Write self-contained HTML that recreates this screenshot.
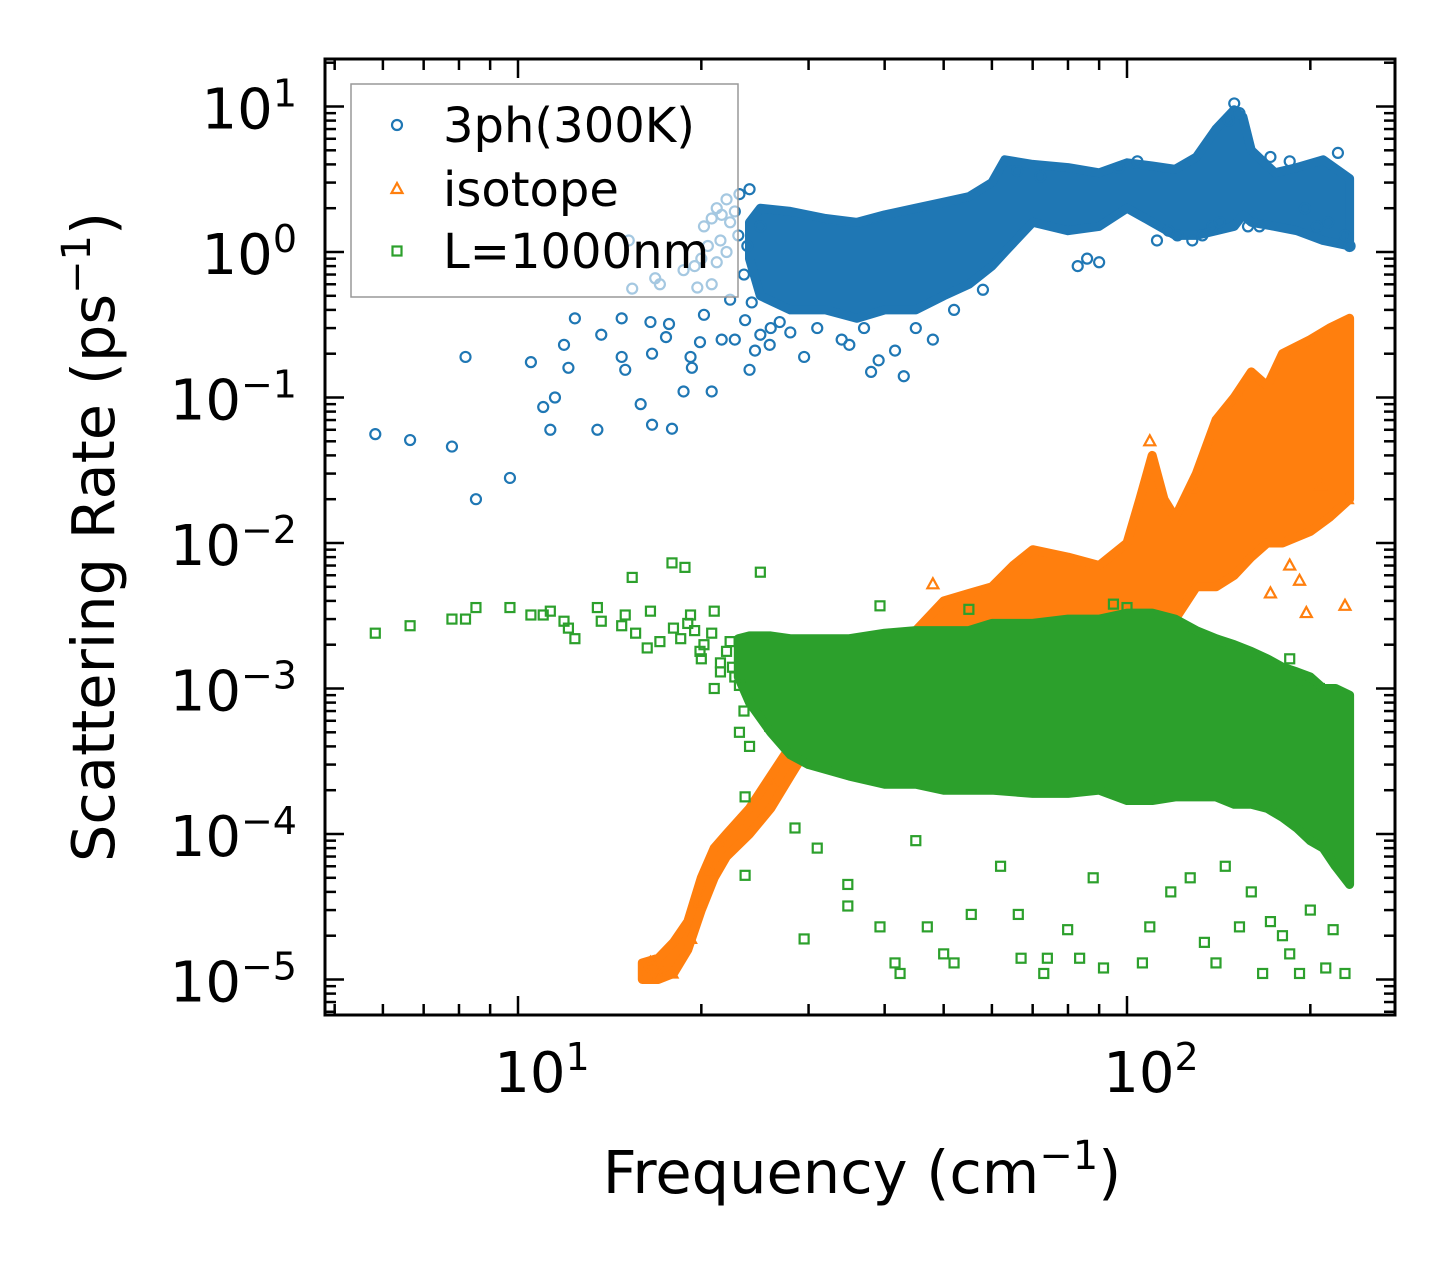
<!DOCTYPE html>
<html><head><meta charset="utf-8"><style>
html,body{margin:0;padding:0;background:#fff;}
svg{display:block;font-family:"DejaVu Sans","Liberation Sans",sans-serif;}
</style></head><body>
<svg id="chart" width="1455" height="1265" viewBox="0 0 1455 1265" xmlns="http://www.w3.org/2000/svg">
<rect x="0" y="0" width="1455" height="1265" fill="#fff"/>
<g id="marks"></g>
<g id="axes"></g>
</svg>
<script>
// ---- data ----
const blueX = [5.83,6.65,7.79,8.2,8.53,9.7,10.5,11.0,11.3,11.5,11.9,12.1,12.4,13.5,13.7,14.8,14.8,15.0,15.2,15.4,15.9,16.5,16.6,16.6,16.8,17.1,17.5,17.7,17.9,18.7,18.7,19.2,19.3,19.7,19.9,20.2,20.8,20.8,21.2,21.6,22.3,22.7,23.6,24.0,24.5,25,25.9,26.9,29.5,35,38,39.1,41.6,43,48,20.2,20.8,21.2,21.6,22,22.3,22.7,23.1,21.5,20.5,22,23,19.5,20,24,26,28,31,34,37,45,52,58,66,72,83,86,90,97,104,112,117,121,128,133,138,142,147,150,153,158,165,172,185,196,205,214,222,228,232,23.5,24.2,25,23.8];
const blueY = [0.056,0.051,0.046,0.19,0.02,0.028,0.175,0.086,0.06,0.10,0.23,0.16,0.35,0.06,0.27,0.35,0.19,0.155,1.2,0.56,0.09,0.33,0.2,0.065,0.66,0.6,0.26,0.32,0.061,0.75,0.11,0.19,0.16,0.57,0.24,0.37,0.11,0.6,0.85,0.25,0.47,0.25,0.34,0.155,0.21,0.27,0.23,0.33,0.19,0.23,0.15,0.18,0.21,0.14,0.25,1.5,1.7,2.0,1.8,2.3,1.6,1.9,2.5,1.2,1.1,1.0,1.3,0.8,0.9,2.7,0.3,0.28,0.3,0.25,0.3,0.3,0.4,0.55,3.6,3.3,0.8,0.9,0.85,3.8,4.2,1.2,1.4,1.3,1.2,1.3,1.5,1.6,8,10.5,9,1.5,1.5,4.5,4.2,2.0,1.5,1.6,4.8,1.3,1.1,0.7,0.45,1.5,1.1];
const blueBandX = [24,25,28,32,36,40,45,50,55,60,63,70,80,90,100,110,120,130,140,150,155,160,175,190,210,232];
const blueBandLo = [0.9,0.5,0.4,0.4,0.35,0.4,0.4,0.5,0.6,0.8,1.0,1.6,1.4,1.5,2.0,1.6,1.3,1.3,1.4,1.5,1.8,1.6,1.5,1.4,1.2,1.1];
const blueBandHi = [1.6,2.0,1.9,1.7,1.6,1.8,2.0,2.2,2.4,3.0,4.3,4.0,3.8,3.5,4.1,3.9,3.7,4.5,7,9.5,8.5,5,3.5,3.8,4.3,3.2];

const orangeX = [16.2,16.8,17.3,17.9,16.5,17.0,19.2,19.9,20.7,21.5,23,25.9,28,29.5,48,192,197,228,172,185,109,129,153,208,230];
const orangeY = [1.1e-5,1.2e-5,1.1e-5,1.1e-5,1.3e-5,1.05e-5,1.9e-5,3.4e-5,5.6e-5,8.4e-5,1.2e-4,2.3e-4,3.7e-4,4.7e-4,5.2e-3,5.5e-3,3.3e-3,3.7e-3,4.5e-3,7e-3,5e-2,2.3e-2,0.1,2.5e-2,0.02];
const orangeBandX = [16,17,18,19,20,21,22,24,26,28,30,35,40,45,50,55,60,65,70,80,90,100,105,110,115,120,130,140,150,160,170,180,200,215,232];
const orangeBandLo = [1e-5,1e-5,1.1e-5,1.6e-5,3e-5,5e-5,7e-5,1e-4,1.5e-4,2.5e-4,4e-4,5e-4,6e-4,7e-4,8e-4,1e-3,1.2e-3,1.5e-3,1.5e-3,1.5e-3,2e-3,2e-3,3e-3,3e-3,3e-3,3e-3,5e-3,5e-3,6e-3,8e-3,1e-2,1e-2,1.2e-2,1.5e-2,2e-2];
const orangeBandHi = [1.3e-5,1.4e-5,1.8e-5,2.5e-5,5e-5,8e-5,1e-4,1.5e-4,2.5e-4,4e-4,6e-4,1.2e-3,1.8e-3,2.5e-3,4e-3,4.5e-3,5e-3,7e-3,9e-3,8e-3,7e-3,1e-2,2e-2,4e-2,2e-2,1.5e-2,3e-2,7e-2,0.1,0.15,0.12,0.2,0.25,0.3,0.35];

const greenX = [5.83,6.65,7.79,8.2,8.53,9.7,10.5,11,11.3,11.9,12.1,12.4,13.5,13.7,14.8,15,15.4,15.6,16.3,16.5,17.1,17.9,18.8,19.2,19.9,21,21.5,22.3,23.1,25,23.1,24,25.9,23.6,23.6,29.5,28.5,34.8,34.8,39.3,41.6,42.4,47,50,52,55.5,66.3,67,73,74,79.9,83.6,91.5,106,109,127,134,140,167,185,192,212,228,153,172,180,39.3,55,95,100,185,192,207,31,45,62,88,118,145,160,200,218,18,18.5,19.5,20.2,20.8,21.5,22,22.7,19,20,21,22.5,23.5,24.5];
const greenY = [2.4e-3,2.7e-3,3e-3,3e-3,3.6e-3,3.6e-3,3.2e-3,3.2e-3,3.4e-3,2.9e-3,2.6e-3,2.2e-3,3.6e-3,2.9e-3,2.7e-3,3.2e-3,5.8e-3,2.4e-3,1.9e-3,3.4e-3,2.1e-3,7.3e-3,6.8e-3,3.2e-3,1.8e-3,3.4e-3,1.5e-3,2.1e-3,1.05e-3,6.3e-3,5e-4,4e-4,5.5e-4,1.8e-4,5.2e-5,1.9e-5,1.1e-4,3.2e-5,4.5e-5,2.3e-5,1.3e-5,1.1e-5,2.3e-5,1.5e-5,1.3e-5,2.8e-5,2.8e-5,1.4e-5,1.1e-5,1.4e-5,2.2e-5,1.4e-5,1.2e-5,1.3e-5,2.3e-5,5e-5,1.8e-5,1.3e-5,1.1e-5,1.5e-5,1.1e-5,1.2e-5,1.1e-5,2.3e-5,2.5e-5,2e-5,3.7e-3,3.5e-3,3.8e-3,3.6e-3,1.6e-3,1.1e-3,1e-3,8e-5,9e-5,6e-5,5e-5,4e-5,6e-5,4e-5,3e-5,2.2e-5,2.6e-3,2.2e-3,2.5e-3,2.0e-3,2.4e-3,1.3e-3,1.8e-3,1.2e-3,2.8e-3,1.6e-3,1.0e-3,1.4e-3,7e-4,9e-4];
const greenBandX = [23,24,26,28,30,35,40,45,50,55,60,70,80,90,100,110,120,130,140,150,160,170,180,190,200,210,220,232];
const greenBandLo = [1.2e-3,8e-4,5e-4,3.5e-4,3e-4,2.5e-4,2.2e-4,2.2e-4,2e-4,2e-4,2e-4,1.9e-4,1.9e-4,2e-4,1.7e-4,1.7e-4,1.8e-4,1.8e-4,1.8e-4,1.6e-4,1.6e-4,1.5e-4,1.3e-4,1.1e-4,9e-5,8e-5,6e-5,4.5e-5];
const greenBandHi = [2.2e-3,2.3e-3,2.3e-3,2.2e-3,2.2e-3,2.2e-3,2.4e-3,2.5e-3,2.5e-3,2.5e-3,2.8e-3,2.8e-3,3e-3,3e-3,3.3e-3,3.3e-3,3e-3,2.5e-3,2.2e-3,2e-3,1.8e-3,1.6e-3,1.4e-3,1.3e-3,1.2e-3,1e-3,1e-3,9e-4];

const yTickExps = [-5,-4,-3,-2,-1,0,1];
const yTickLabels = ["\u22125","\u22124","\u22123","\u22122","\u22121","0","1"];
const xTickExps = [1,2];
const xTickLabels = ["1","2"];

// ---- axes ----
const L=325,R=1395,T=59,B=1015;
const X10=518, XD=609, Y0=252, YD=145.5;
function sx(f){return X10+XD*(Math.log10(f)-1);}
function sy(v){return Y0-YD*Math.log10(v);}
const NS="http://www.w3.org/2000/svg";
function mk(tag,attrs,parent){const e=document.createElementNS(NS,tag);for(const k in attrs)e.setAttribute(k,attrs[k]);parent.appendChild(e);return e;}
const marks=document.getElementById('marks');
const axes=document.getElementById('axes');
const C={b:"#1f77b4",o:"#ff7f0e",g:"#2ca02c"};

mk('clipPath',{id:'clip'},marks);
mk('rect',{x:L,y:T,width:R-L,height:B-T},document.getElementById('clip'));
const plot=mk('g',{'clip-path':'url(#clip)'},marks);



function band(xs,lo,hi,color,name){
  let pts=[];
  for(let i=0;i<xs.length;i++)pts.push(sx(xs[i]).toFixed(1)+','+sy(hi[i]).toFixed(1));
  for(let i=xs.length-1;i>=0;i--)pts.push(sx(xs[i]).toFixed(1)+','+sy(lo[i]).toFixed(1));
  const p=mk('polygon',{points:pts.join(' '),fill:color,stroke:color,'stroke-width':9,'stroke-linejoin':'round'},plot);
  
  
}
function circ(x,y,c,g){const e=mk('circle',{cx:x,cy:y,r:5,fill:'none',stroke:c,'stroke-width':2.2},g);return e;}
function tri(x,y,c,g){return mk('polygon',{points:`${x},${y-6} ${x-5.5},${y+4} ${x+5.5},${y+4}`,fill:'none',stroke:c,'stroke-width':2.2},g);}
function sq(x,y,c,g){return mk('rect',{x:x-4.5,y:y-4.5,width:9,height:9,fill:'none',stroke:c,'stroke-width':2.2},g);}
function series(xs,ys,c,fn,name){
  const g=mk('g',{},plot);
  
  
  for(let i=0;i<xs.length;i++){
    const e=fn(sx(xs[i]),sy(ys[i]),c,g);
    
    
  }
}
band(blueBandX,blueBandLo,blueBandHi,C.b,'3ph-dense-band');
series(blueX,blueY,C.b,circ,'3ph-series');
band(orangeBandX,orangeBandLo,orangeBandHi,C.o,'isotope-dense-band');
series(orangeX,orangeY,C.o,tri,'isotope-series');
band(greenBandX,greenBandLo,greenBandHi,C.g,'boundary-dense-band');
series(greenX,greenY,C.g,sq,'boundary-series');

// legend
const lg=mk('g',{},marks);


mk('rect',{x:351,y:84,width:387,height:213,fill:'#fff','fill-opacity':0.6,stroke:'#999','stroke-width':1.5},lg);
const legItems=[["3ph(300K)",C.b,circ,125],["isotope",C.o,tri,189],["L=1000nm",C.g,sq,251]];
legItems.forEach(it=>{
  const e=it[2](397,it[3],it[1],lg);
  
  
  const t=mk('text',{x:443,y:it[3]+17,'font-size':48,fill:'#000'},lg);
  t.textContent=it[0];
  
  
});

// frame
mk('rect',{x:L,y:T,width:R-L,height:B-T,fill:'none',stroke:'#000','stroke-width':3},axes);
function tick(x1,y1,x2,y2,w){mk('line',{x1,y1,x2,y2,stroke:'#000','stroke-width':w||2.5},axes);}
for(let k=-6;k<=1;k++){
  for(let m=1;m<10;m++){
    const v=m*Math.pow(10,k);const y=sy(v);
    if(y<T+1||y>B-1)continue;
    const len=m===1?19:11;
    tick(L,y,L+len,y);tick(R,y,R-len,y);
  }
}
for(let k=0;k<=2;k++){
  for(let m=1;m<10;m++){
    const f=m*Math.pow(10,k);const x=sx(f);
    if(x<L+1||x>R-1)continue;
    const len=m===1?19:11;
    tick(x,B,x,B-len);tick(x,T,x,T+len);
  }
}
function powLabel(x,y,exp,anchor,name){
  const t=mk('text',{x:x,y:y,'font-size':56,'text-anchor':anchor,fill:'#000'},axes);
  
  
  const a=mk('tspan',{},t);a.textContent='10';
  const b=mk('tspan',{dy:-22,'font-size':38},t);b.textContent=exp;
}
yTickExps.forEach((e,i)=>powLabel(297,sy(Math.pow(10,e))+22,yTickLabels[i],'end','y-tick-label'));
xTickExps.forEach((e,i)=>powLabel(sx(Math.pow(10,e))+24,1092,xTickLabels[i],'middle','x-tick-label'));

// axis titles
const xt=mk('text',{x:862,y:1193,'font-size':59,'text-anchor':'middle',fill:'#000'},axes);


mk('tspan',{},xt).textContent='Frequency (cm';
mk('tspan',{dy:-24,'font-size':40},xt).textContent='\u22121';
mk('tspan',{dy:24},xt).textContent=')';
const yt=mk('text',{x:0,y:0,'font-size':59,'text-anchor':'middle',fill:'#000',transform:'translate(114,537) rotate(-90)'},axes);


mk('tspan',{},yt).textContent='Scattering Rate (ps';
mk('tspan',{dy:-24,'font-size':40},yt).textContent='\u22121';
mk('tspan',{dy:24},yt).textContent=')';
</script>
</body></html>
